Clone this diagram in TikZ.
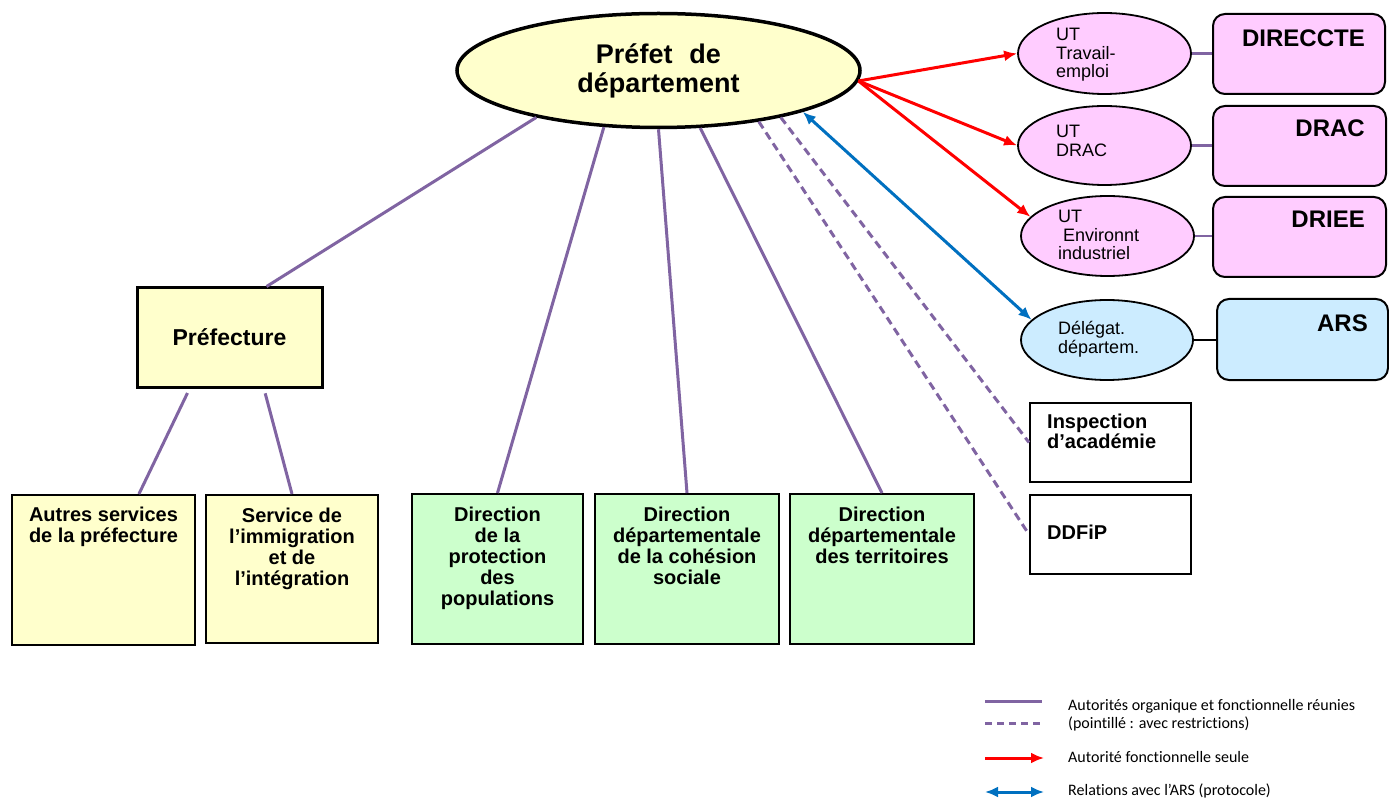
\documentclass[tikz,border=0pt]{standalone}
\usepackage{fontspec}
\setmainfont{Liberation Sans}
\newfontfamily\legendfont{Carlito}[Ligatures=NoCommon]
\usetikzlibrary{shapes.geometric,arrows.meta}

\definecolor{orgpurple}{HTML}{8064A2}
\definecolor{jaune}{HTML}{FFFFCC}
\definecolor{vert}{HTML}{CCFFCC}
\definecolor{rose}{HTML}{FFCCFF}
\definecolor{bleuclair}{HTML}{CCECFF}
\definecolor{bleuars}{HTML}{0070C0}

\tikzset{
  orgline/.style={draw=orgpurple, line width=3pt},
  orgdash/.style={orgline, dash pattern={on 8pt off 5pt}},
  fctarrow/.style={draw=red, line width=3pt, -{Latex[length=13pt,width=11pt]}},
  arsarrow/.style={draw=bleuars, line width=3pt, {Latex[length=13pt,width=11pt]}-{Latex[length=13pt,width=11pt]}},
  prefetshape/.style={ellipse, draw, fill=jaune, line width=3.5pt, inner sep=0pt,
    minimum width=403pt, minimum height=114pt, align=center,
    font=\bfseries\fontsize{27}{29}\selectfont},
  servbox/.style={draw, line width=2pt, inner sep=0pt},
  ratbox/.style={draw, line width=2pt, inner sep=0pt, rounded corners=12pt},
  utshape/.style={ellipse, draw, line width=1.8pt, inner sep=0pt},
  boxtext/.style={inner sep=0pt, align=center, font=\bfseries\fontsize{20}{21}\selectfont},
  uttext/.style={inner sep=0pt, align=left, font=\fontsize{18}{18.5}\selectfont},
  titletext/.style={inner sep=0pt, font=\bfseries\fontsize{24}{26}\selectfont},
  legtext/.style={inner sep=0pt, font=\legendfont\fontsize{16}{18}\selectfont}
}

\begin{document}
\begin{tikzpicture}[x=1pt,y=1pt,yscale=-1]
	\useasboundingbox[fill=white] (0,0) rectangle (1389,799);

	%Shape: Ellipse
	\node[prefetshape] (prefet) at (658.5,70.5) {Préfet\hspace{17pt}de\\département};

	%Shape: Rectangle
	\node[servbox, fill=jaune, line width=3pt, minimum width=185pt, minimum height=99pt,
	  font=\bfseries\fontsize{23}{26}\selectfont] (prefecture) at (229.5,337.5) {Préfecture};
	\node[servbox, fill=jaune, minimum width=183pt, minimum height=150pt] (autres) at (103.5,570) {};
	\node[servbox, fill=jaune, minimum width=172pt, minimum height=148pt] (service) at (292,569) {};
	\node[servbox, fill=vert, minimum width=171pt, minimum height=150pt] (dpp) at (497.5,569) {};
	\node[servbox, fill=vert, minimum width=184pt, minimum height=150pt] (ddcs) at (687,569) {};
	\node[servbox, fill=vert, minimum width=184pt, minimum height=150pt] (ddt) at (882,569) {};
	\node[servbox, minimum width=161pt, minimum height=79pt] (insp) at (1110.5,442.5) {};
	\node[servbox, minimum width=161pt, minimum height=79pt] (ddfip) at (1110.5,534.5) {};

	%Shape: Ellipse
	\node[utshape, fill=rose, minimum width=173pt, minimum height=81pt] (ut1) at (1104.5,53.5) {};
	\node[utshape, fill=rose, minimum width=173pt, minimum height=79pt] (ut2) at (1104.5,145.5) {};
	\node[utshape, fill=rose, minimum width=173pt, minimum height=80pt] (ut3) at (1107.5,236) {};
	\node[utshape, fill=bleuclair, minimum width=172pt, minimum height=80pt] (del) at (1107,340) {};

	%Shape: Rounded Rect
	\node[ratbox, fill=rose, minimum width=172pt, minimum height=80pt] (direccte) at (1299,54) {};
	\node[ratbox, fill=rose, minimum width=173pt, minimum height=80pt] (drac) at (1299.5,146) {};
	\node[ratbox, fill=rose, minimum width=173pt, minimum height=80pt] (driee) at (1299.5,237) {};
	\node[ratbox, fill=bleuclair, minimum width=171pt, minimum height=81pt] (ars) at (1302.5,339.5) {};

	%Straight Lines
	\draw[orgline] (prefet.201) -- (prefecture.54);
	\draw[orgline] (prefet.226) -- (dpp.north);
	\draw[orgline] (prefet.270) -- (ddcs.north);
	\draw[orgline] (prefet.306) -- (ddt.north);
	\draw[orgline, shorten <=5pt] (prefecture.232) -- (autres.65);
	\draw[orgline, shorten <=5pt] (prefecture.304) -- (service.north);
	\draw[orgdash] (prefet.333) -- (ddfip.west);
	\draw[orgdash] (prefet.339) -- (insp.west);
	\draw[orgline, line width=2.4pt] (ut1.east) -- (ut1.east -| direccte.west);
	\draw[orgline, line width=2.4pt] (ut2.east) -- (ut2.east -| drac.west);
	\draw[orgline, line width=2.4pt] (ut3.east) -- (ut3.east -| driee.west);
	\draw[line width=2.8pt] (del.east) -- (del.east -| ars.west);

	%Arrows
	\draw[fctarrow] (prefet.357) -- (ut1.west);
	\draw[fctarrow] (prefet.357) -- (ut2.west);
	\draw[fctarrow] (prefet.357) -- (ut3.166);
	\draw[arsarrow] (prefet.344) -- (del.165);

	% Text Node
	\node[boxtext, anchor=north] (autres-t) at (103.5,507) {Autres services\\de la préfecture};
	% Text Node
	\node[boxtext, anchor=north] (service-t) at (292,508) {Service de\\l’immigration\\et de\\l’intégration};
	% Text Node
	\node[boxtext, anchor=north] (dpp-t) at (497.5,507) {Direction\\de la\\protection\\des\\populations};
	% Text Node
	\node[boxtext, anchor=north] (ddcs-t) at (687,507) {Direction\\départementale\\de la cohésion\\sociale};
	% Text Node
	\node[boxtext, anchor=north] (ddt-t) at (882,507) {Direction\\départementale\\des territoires};
	% Text Node
	\node[boxtext, align=left, anchor=north west, font=\bfseries\fontsize{20}{20}\selectfont] (insp-t) at (1047,414) {Inspection\\d’académie};
	% Text Node
	\node[boxtext, anchor=base west] (ddfip-t) at (1047,539) {DDFiP};

	% Text Node
	\node[uttext, anchor=north west] (ut1-t) at (1056,28) {UT\\Travail-\\emploi};
	% Text Node
	\node[uttext, anchor=north west] (ut2-t) at (1056,125) {UT\\DRAC};
	% Text Node
	\node[uttext, anchor=north west] (ut3-t) at (1058,210) {UT\\\hspace*{5pt}Environnt\\industriel};
	% Text Node
	\node[uttext, anchor=north west] (del-t) at (1058,321.5) {Délégat.\\départem.};

	% Text Node
	\node[titletext, anchor=base east] (direccte-t) at (1365,47) {DIRECCTE};
	% Text Node
	\node[titletext, anchor=base east] (drac-t) at (1365,137) {DRAC};
	% Text Node
	\node[titletext, anchor=base east] (driee-t) at (1365,228) {DRIEE};
	% Text Node
	\node[titletext, anchor=base east] (ars-t) at (1368,332) {ARS};

	%Legend
	\coordinate (leg1a) at (985,701);
	\coordinate (leg1b) at (1042,701);
	\coordinate (leg2a) at (985,723);
	\coordinate (leg2b) at (1042,723);
	\coordinate (leg3a) at (985,758);
	\coordinate (leg3b) at (1044,758);
	\coordinate (leg4a) at (985,792);
	\coordinate (leg4b) at (1044,792);
	\draw[orgline] (leg1a) -- (leg1b);
	\draw[orgline, dash pattern={on 7pt off 5pt}] (leg2a) -- (leg2b);
	\draw[fctarrow] (leg3a) -- (leg3b);
	\draw[arsarrow] (leg4a) -- (leg4b);
	% Text Node
	\node[legtext, anchor=base west] (leg1-t) at (1068,710) {Autorités organique et fonctionnelle réunies};
	% Text Node
	\node[legtext, anchor=base west] (leg2-t) at (1068,728) {(pointillé : avec restrictions)};
	% Text Node
	\node[legtext, anchor=base west] (leg3-t) at (1068,762) {Autorité fonctionnelle seule};
	% Text Node
	\node[legtext, anchor=base west] (leg4-t) at (1068,795) {Relations avec l’ARS (protocole)};

\end{tikzpicture}
\end{document}
